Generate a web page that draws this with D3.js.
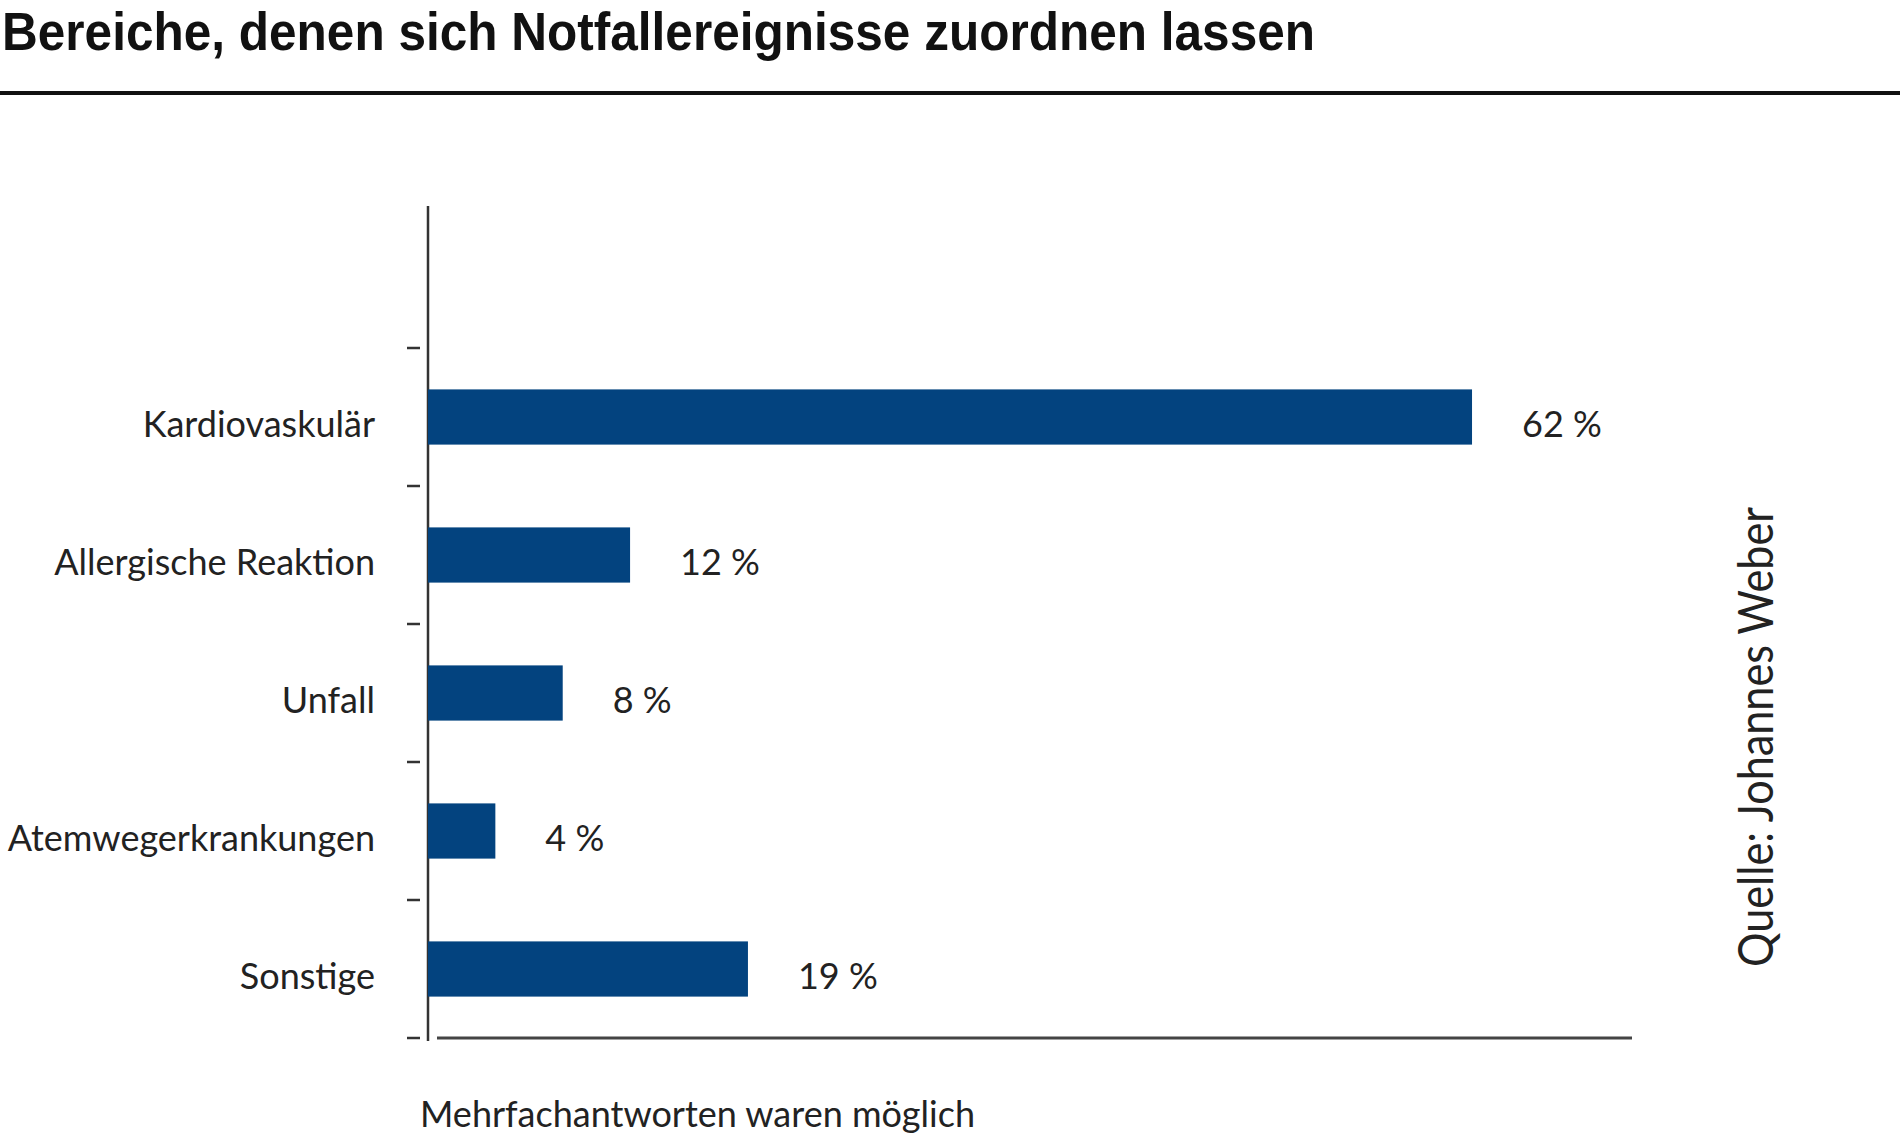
<html>
<head>
	<meta charset="utf-8">
	<script src="https://d3js.org/d3.v7.min.js"></script>
	<style>
		body { margin: 0; background: #fff; }
		text { font-family: Lato, "Liberation Sans", sans-serif; fill: #222; }
	</style>
</head>
<body>

<script>
// Daten
var categories = ["Kardiovaskulär", "Allergische Reaktion", "Unfall", "Atemwegerkrankungen", "Sonstige"];
var values = [62, 12, 8, 4, 19];
var title = "Bereiche, denen sich Notfallereignisse zuordnen lassen";
var footnote = "Mehrfachantworten waren möglich";
var source = "Quelle: Johannes Weber";

var w = 1900; //Breite
var h = 1143; //Höhe

var svg = d3.select("body").append("svg").attr("width", w).attr("height", h);

// Titel + Linie
svg.append("text")
	.attr("x", 2).attr("y", 50)
	.attr("textLength", 1313).attr("lengthAdjust", "spacingAndGlyphs")
	.style("font-family", "'Liberation Sans Narrow', 'Liberation Sans', sans-serif")
	.style("font-weight", "bold").style("font-size", "54px").style("fill", "#111")
	.text(title);
svg.append("line")
	.attr("x1", 0).attr("x2", w).attr("y1", 93).attr("y2", 93)
	.attr("stroke", "#111").attr("stroke-width", 4);

// Skalen
var xScale = d3.scaleLinear().domain([0, 71.5]).range([428, 1632]);
var yScale = d3.scaleBand().domain(categories).range([348, 1038]).padding(0);
var plotTop = 206;

// Achsen
svg.append("line")
	.attr("x1", xScale(0)).attr("x2", xScale(0))
	.attr("y1", plotTop).attr("y2", yScale.range()[1] + 3)
	.attr("stroke", "#333").attr("stroke-width", 2.5);
svg.append("line")
	.attr("x1", xScale(0) + 9).attr("x2", xScale.range()[1])
	.attr("y1", yScale.range()[1]).attr("y2", yScale.range()[1])
	.attr("stroke", "#444").attr("stroke-width", 3);

var tickPos = categories.map(function(c){ return yScale(c); }).concat([yScale.range()[1]]);
svg.selectAll("line.tick")
	.data(tickPos)
	.enter()
	.append("line")
	.attr("class", "tick")
	.attr("x1", xScale(0) - 21).attr("x2", xScale(0) - 8)
	.attr("y1", function(d){ return d; }).attr("y2", function(d){ return d; })
	.attr("stroke", "#333").attr("stroke-width", 2.5);

// Balken
svg.selectAll("rect")
	.data(values)
	.enter()
	.append("rect")
	.attr("x", xScale(0))
	.attr("y", function(d, i){ return yScale(categories[i]) + yScale.bandwidth() * 0.3; })
	.attr("width", function(d){ return xScale(d) - xScale(0); })
	.attr("height", yScale.bandwidth() * 0.4)
	.attr("fill", "#03437f");

// Kategorien
svg.selectAll("text.cat")
	.data(categories)
	.enter()
	.append("text")
	.attr("class", "cat")
	.attr("x", 375)
	.attr("y", function(d){ return yScale(d) + yScale.bandwidth() / 2 + 20; })
	.attr("text-anchor", "end")
	.style("font-size", "36px")
	.text(function(d){ return d; });

// Werte
svg.selectAll("text.val")
	.data(values)
	.enter()
	.append("text")
	.attr("class", "val")
	.attr("x", function(d){ return xScale(d) + 50; })
	.attr("y", function(d, i){ return yScale(categories[i]) + yScale.bandwidth() / 2 + 20; })
	.style("font-size", "36px")
	.text(function(d){ return d + " %"; });

// Fußnote
svg.append("text")
	.attr("x", 420).attr("y", 1127)
	.style("font-size", "36px")
	.text(footnote);

// Quelle
svg.append("text")
	.attr("transform", "translate(1773,737) rotate(-90)")
	.attr("text-anchor", "middle")
	.attr("textLength", 460).attr("lengthAdjust", "spacingAndGlyphs")
	.style("font-size", "48px")
	.text(source);
</script>

</body>
</html>
